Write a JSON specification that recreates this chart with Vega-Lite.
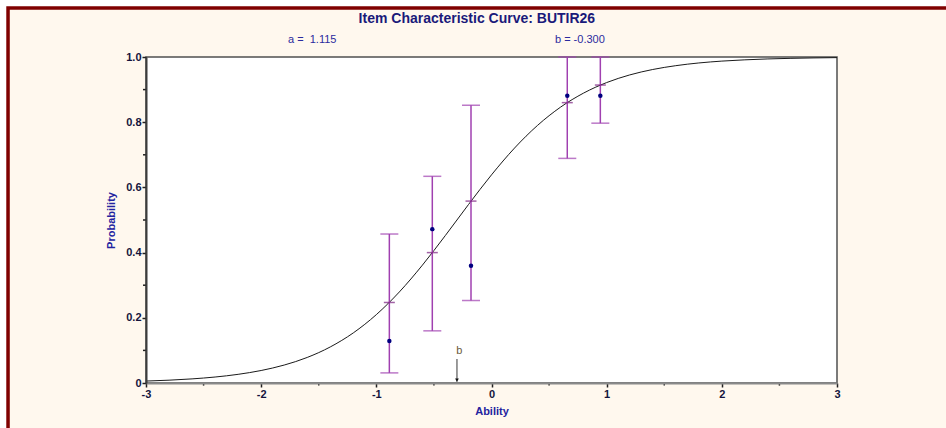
{
  "$schema": "https://vega.github.io/schema/vega-lite/v6.json",
  "width": 691,
  "height": 326,
  "autosize": {"type": "none"},
  "padding": {"left": 146, "top": 57, "right": 109, "bottom": 45},
  "background": "white",
  "config": {"view": {"stroke": null}, "font": "Liberation Sans"},
  "datasets": {
    "curve": [
      {"theta": -3.0, "p": 0.00595}, {"theta": -2.8, "p": 0.00867}, {"theta": -2.6, "p": 0.01262},
      {"theta": -2.4, "p": 0.01833}, {"theta": -2.2, "p": 0.02657}, {"theta": -2.0, "p": 0.03834},
      {"theta": -1.8, "p": 0.05504}, {"theta": -1.6, "p": 0.0784}, {"theta": -1.4, "p": 0.1106},
      {"theta": -1.2, "p": 0.1537}, {"theta": -1.0, "p": 0.2097}, {"theta": -0.8, "p": 0.2793},
      {"theta": -0.6, "p": 0.3615}, {"theta": -0.4, "p": 0.4527}, {"theta": -0.2, "p": 0.5473},
      {"theta": 0.0, "p": 0.6385}, {"theta": 0.2, "p": 0.7207}, {"theta": 0.4, "p": 0.7903},
      {"theta": 0.6, "p": 0.8463}, {"theta": 0.8, "p": 0.8894}, {"theta": 1.0, "p": 0.9216},
      {"theta": 1.2, "p": 0.945}, {"theta": 1.4, "p": 0.9617}, {"theta": 1.6, "p": 0.9734},
      {"theta": 1.8, "p": 0.9817}, {"theta": 2.0, "p": 0.9874}, {"theta": 2.2, "p": 0.9913},
      {"theta": 2.4, "p": 0.9941}, {"theta": 2.6, "p": 0.9959}, {"theta": 2.8, "p": 0.9972},
      {"theta": 3.0, "p": 0.9981}
    ],
    "items": [
      {"theta": -0.887, "obs": 0.129, "lo": 0.031, "hi": 0.457, "pc": 0.247},
      {"theta": -0.514, "obs": 0.472, "lo": 0.160, "hi": 0.634, "pc": 0.400},
      {"theta": -0.178, "obs": 0.360, "lo": 0.253, "hi": 0.852, "pc": 0.558},
      {"theta": 0.658, "obs": 0.881, "lo": 0.689, "hi": 1.0, "pc": 0.860},
      {"theta": 0.945, "obs": 0.881, "lo": 0.797, "hi": 1.0, "pc": 0.914}
    ]
  },
  "layer": [
    {
      "data": {"values": [{"x": -4.198, "x2": 5, "y": -1, "y2": 1.1503}]},
      "mark": {"type": "rect", "fill": "#FFF8EE", "stroke": "#800000", "strokeWidth": 3.5},
      "encoding": {
        "x": {"field": "x", "type": "quantitative", "scale": {"domain": [-3, 3], "nice": false, "zero": false},
          "axis": {"title": "Ability", "values": [-3, -2, -1, 0, 1, 2, 3], "labelExpr": "'' + datum.value",
            "labelFontSize": 11, "labelFontWeight": "bold", "labelColor": "#14143c", "labelPadding": 1, "labelFlush": false,
            "tickSize": 4, "tickWidth": 1.5, "tickColor": "#202020", "domainColor": "#8a8a8a", "domainWidth": 2,
            "grid": false, "titleFontSize": 11, "titleFontWeight": "bold", "titleColor": "#2323a0", "titlePadding": 6, "zindex": 1}},
        "x2": {"field": "x2"},
        "y": {"field": "y", "type": "quantitative", "scale": {"domain": [0, 1], "nice": false, "zero": false},
          "axis": {"title": "Probability", "values": [0, 0.2, 0.4, 0.6, 0.8, 1], "labelExpr": "datum.value == 0 ? '0' : format(datum.value, '.1f')",
            "labelFontSize": 11, "labelFontWeight": "bold", "labelColor": "#14143c", "labelPadding": 1, "labelFlush": false,
            "tickSize": 4, "tickWidth": 1.5, "tickColor": "#202020", "domainColor": "#3c3c3c", "domainWidth": 2,
            "grid": false, "titleFontSize": 11, "titleFontWeight": "bold", "titleColor": "#2323a0", "titlePadding": 9, "zindex": 1}},
        "y2": {"field": "y2"}
      }
    },
    {
      "data": {"values": [{"x": -3, "x2": 3, "y": 0, "y2": 1}]},
      "mark": {"type": "rect", "fill": "white", "stroke": "#505050", "strokeWidth": 1.5},
      "encoding": {
        "x": {"field": "x", "type": "quantitative", "scale": {"domain": [-3, 3]}},
        "x2": {"field": "x2"},
        "y": {"field": "y", "type": "quantitative", "scale": {"domain": [0, 1]}},
        "y2": {"field": "y2"}
      }
    },
    {
      "data": {"name": "curve"},
      "mark": {"type": "line", "color": "#1a1a1a", "strokeWidth": 1, "interpolate": "monotone"},
      "encoding": {
        "x": {"field": "theta", "type": "quantitative", "scale": {"domain": [-3, 3]}},
        "y": {"field": "p", "type": "quantitative", "scale": {"domain": [0, 1]}}
      }
    },
    {
      "data": {"name": "items"},
      "mark": {"type": "rule", "color": "#a040b0", "strokeWidth": 1.5},
      "encoding": {
        "x": {"field": "theta", "type": "quantitative", "scale": {"domain": [-3, 3]}},
        "y": {"field": "lo", "type": "quantitative", "scale": {"domain": [0, 1]}},
        "y2": {"field": "hi"}
      }
    },
    {
      "data": {"name": "items"},
      "mark": {"type": "tick", "orient": "horizontal", "color": "#a040b0", "size": 18, "thickness": 1.5},
      "encoding": {
        "x": {"field": "theta", "type": "quantitative", "scale": {"domain": [-3, 3]}},
        "y": {"field": "lo", "type": "quantitative", "scale": {"domain": [0, 1]}}
      }
    },
    {
      "data": {"name": "items"},
      "mark": {"type": "tick", "orient": "horizontal", "color": "#a040b0", "size": 18, "thickness": 1.5},
      "encoding": {
        "x": {"field": "theta", "type": "quantitative", "scale": {"domain": [-3, 3]}},
        "y": {"field": "hi", "type": "quantitative", "scale": {"domain": [0, 1]}}
      }
    },
    {
      "data": {"name": "items"},
      "mark": {"type": "tick", "orient": "horizontal", "color": "#7a2080", "size": 11, "thickness": 1.5},
      "encoding": {
        "x": {"field": "theta", "type": "quantitative", "scale": {"domain": [-3, 3]}},
        "y": {"field": "pc", "type": "quantitative", "scale": {"domain": [0, 1]}}
      }
    },
    {
      "data": {"name": "items"},
      "mark": {"type": "point", "filled": true, "color": "#000080", "size": 20, "opacity": 1},
      "encoding": {
        "x": {"field": "theta", "type": "quantitative", "scale": {"domain": [-3, 3]}},
        "y": {"field": "obs", "type": "quantitative", "scale": {"domain": [0, 1]}}
      }
    },
    {
      "data": {"values": [{"b": -0.3, "top": 0.0736, "bottom": 0.004}]},
      "mark": {"type": "rule", "color": "#7a7a7a", "strokeWidth": 1.5},
      "encoding": {
        "x": {"field": "b", "type": "quantitative", "scale": {"domain": [-3, 3]}},
        "y": {"field": "top", "type": "quantitative", "scale": {"domain": [0, 1]}},
        "y2": {"field": "bottom"}
      }
    },
    {
      "data": {"values": [{"b": -0.3, "tip": 0.009}]},
      "mark": {"type": "point", "shape": "triangle-down", "filled": true, "color": "#101010", "size": 14, "opacity": 1},
      "encoding": {
        "x": {"field": "b", "type": "quantitative", "scale": {"domain": [-3, 3]}},
        "y": {"field": "tip", "type": "quantitative", "scale": {"domain": [0, 1]}}
      }
    },
    {
      "data": {"values": [{"x": -3.026, "x2": -3, "y": 0.1}, {"x": -3.026, "x2": -3, "y": 0.3}, {"x": -3.026, "x2": -3, "y": 0.5}, {"x": -3.026, "x2": -3, "y": 0.7}, {"x": -3.026, "x2": -3, "y": 0.9}]},
      "mark": {"type": "rule", "color": "#202020", "strokeWidth": 1.5},
      "encoding": {
        "x": {"field": "x", "type": "quantitative", "scale": {"domain": [-3, 3]}},
        "x2": {"field": "x2"},
        "y": {"field": "y", "type": "quantitative", "scale": {"domain": [0, 1]}}
      }
    },
    {
      "data": {"values": [{"x": -2.5, "y": 0, "y2": -0.008}, {"x": -1.5, "y": 0, "y2": -0.008}, {"x": -0.5, "y": 0, "y2": -0.008}, {"x": 0.5, "y": 0, "y2": -0.008}, {"x": 1.5, "y": 0, "y2": -0.008}, {"x": 2.5, "y": 0, "y2": -0.008}]},
      "mark": {"type": "rule", "color": "#202020", "strokeWidth": 1.5},
      "encoding": {
        "x": {"field": "x", "type": "quantitative", "scale": {"domain": [-3, 3]}},
        "y": {"field": "y", "type": "quantitative", "scale": {"domain": [0, 1]}},
        "y2": {"field": "y2"}
      }
    },
    {
      "data": {"values": [{"x": -0.127, "y": 1.1058, "label": "Item Characteristic Curve: BUTIR26"}]},
      "mark": {"type": "text", "align": "center", "baseline": "alphabetic", "fontSize": 14, "fontWeight": "bold", "color": "#1a1a7a"},
      "encoding": {
        "x": {"field": "x", "type": "quantitative", "scale": {"domain": [-3, 3]}},
        "y": {"field": "y", "type": "quantitative", "scale": {"domain": [0, 1]}},
        "text": {"field": "label"}
      }
    },
    {
      "data": {"values": [{"x": -1.767, "y": 1.042, "label": "a = \u00a01.115"}, {"x": 0.551, "y": 1.042, "label": "b = -0.300"}]},
      "mark": {"type": "text", "align": "left", "baseline": "alphabetic", "fontSize": 11, "color": "#2b2b9e"},
      "encoding": {
        "x": {"field": "x", "type": "quantitative", "scale": {"domain": [-3, 3]}},
        "y": {"field": "y", "type": "quantitative", "scale": {"domain": [0, 1]}},
        "text": {"field": "label"}
      }
    },
    {
      "data": {"values": [{"x": -0.28, "y": 0.089, "label": "b"}]},
      "mark": {"type": "text", "align": "center", "baseline": "alphabetic", "fontSize": 11, "color": "#6b5a3c"},
      "encoding": {
        "x": {"field": "x", "type": "quantitative", "scale": {"domain": [-3, 3]}},
        "y": {"field": "y", "type": "quantitative", "scale": {"domain": [0, 1]}},
        "text": {"field": "label"}
      }
    }
  ]
}
